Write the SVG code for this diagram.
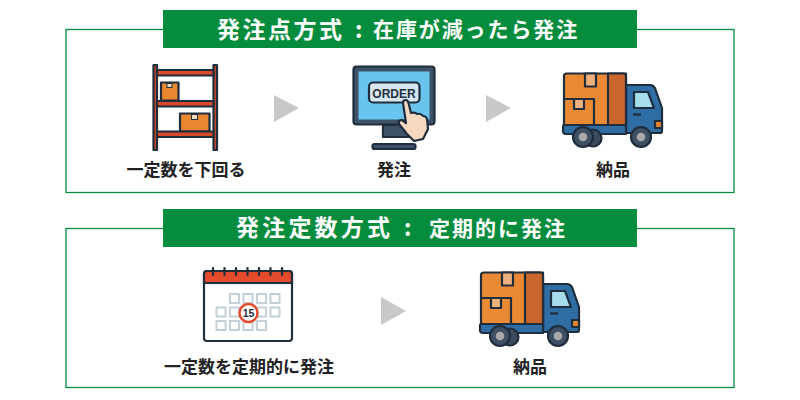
<svg xmlns="http://www.w3.org/2000/svg" xmlns:xlink="http://www.w3.org/1999/xlink" width="800" height="400" viewBox="0 0 800 400">
<style>
text{font-family:"Noto Sans CJK JP","Noto Sans",sans-serif;font-weight:700}
.frame{fill:#fff;stroke:#058c3d;stroke-width:1.3}
.band{fill:#058c3d}
.title{fill:#fff;font-size:23px}
.sub{fill:#fff;font-size:21px}
.label{fill:#222;font-size:17px;text-anchor:middle}
.arrow{fill:#c8c8c8}
.d{stroke:#1f2d3d;stroke-width:2.2;stroke-linejoin:round}
</style>
<defs>
<g id="truck">
<path class="d" d="M626 85H650Q653 85 655 88L662 108V131Q662 133 660 133H626Z" fill="#2f6ea5"/>
<path class="d" d="M634 92H648L654 108H634Z" fill="#a6dcec"/>
<path d="M633 114.500H641" stroke="#1f2d3d" stroke-width="2.200"/>
<rect class="d" x="655" y="121" width="7" height="7" fill="#e8862f"/>
<path class="d" d="M564 125H626V134H566Q563 134 563 131V127Q563 125 564 125Z" fill="#2f6ea5"/>
<path class="d" d="M567 73.500H626V125H564V76Q564 73.500 567 73.500Z" fill="#ea8a35"/>
<path class="d" d="M608 73.500H623Q626 73.500 626 76V125H608Z" fill="#c8662b"/>
<path class="d" d="M564 99H594V125" fill="none"/>
<rect class="d" x="585" y="73.500" width="11" height="13" fill="#eeb07c"/>
<rect class="d" x="574" y="99" width="10" height="10" fill="#eeb07c"/>
<circle class="d" cx="593" cy="138" r="8.500" fill="#3b4a5c"/>
<circle class="d" cx="583" cy="137" r="10" fill="#3f5064"/>
<circle cx="583" cy="137" r="4.300" fill="#a9a9a9"/>
<circle class="d" cx="641" cy="137" r="10" fill="#3f5064"/>
<circle cx="641" cy="137" r="4.300" fill="#a9a9a9"/>
</g>
</defs>

<g id="panel-top">
<rect class="frame" x="66" y="29.500" width="668" height="163"/>
<rect class="band" x="163" y="10" width="474" height="38"/>
<text class="title" x="217" y="37.500" letter-spacing="2.500">発注点方式</text>
<text class="title" x="355" y="37.500">:</text>
<text class="sub" x="373" y="37" letter-spacing="1.900">在庫が減ったら発注</text>
</g>

<g id="panel-bottom">
<rect class="frame" x="66" y="228.500" width="668" height="159"/>
<rect class="band" x="163" y="209" width="474" height="38"/>
<text class="title" x="236" y="235.500" letter-spacing="3.200">発注定数方式</text>
<text class="title" x="404" y="235.500">:</text>
<text class="sub" x="429" y="235.500" letter-spacing="2">定期的に発注</text>
</g>

<g id="node-shelf">
<rect class="d" x="153.500" y="65" width="3.500" height="85" fill="#d8492a"/>
<rect class="d" x="213.500" y="65" width="3.500" height="85" fill="#d8492a"/>
<rect class="d" x="157" y="70" width="56.500" height="5.500" fill="#d8492a"/>
<rect class="d" x="161" y="82.500" width="17.500" height="18" fill="#e8872f"/>
<rect x="167" y="83.500" width="5" height="4" fill="#f0d9c0" stroke="#1f2d3d"/>
<rect class="d" x="157" y="101" width="56.500" height="5.500" fill="#d8492a"/>
<rect class="d" x="180" y="113.500" width="29.500" height="18" fill="#e8872f"/>
<rect x="191.500" y="114.500" width="6" height="5" fill="#f0d9c0" stroke="#1f2d3d"/>
<rect class="d" x="157" y="131.500" width="56.500" height="5.500" fill="#d8492a"/>
<text class="label" x="186" y="176">一定数を下回る</text>
</g>

<g id="node-order">
<rect class="d" x="353.500" y="66.500" width="81" height="58" rx="3" fill="#3f5368"/>
<rect x="358.500" y="71.500" width="71" height="48" fill="#69c4ee"/>
<path class="d" d="M383 125H411V137H383Z" fill="#3f5368"/>
<rect class="d" x="372.500" y="144" width="43" height="5" rx="2" fill="#3f5368"/>
<rect class="d" x="369" y="82.500" width="50.500" height="20" rx="4" fill="#d8e6f0"/>
<text x="394" y="97.500" text-anchor="middle" font-size="12" fill="#22303f" style="font-family:'Liberation Sans',sans-serif">ORDER</text>
<path class="d" d="M403 103Q403 100 405.500 100Q408 100 408.500 103L411 113Q415 112 417 114Q421 113 423 116Q426 116 427 119L428 129L423 139L414 141L407 134L399 124Q398 120 402 120L406 123Z" fill="#f5d8bf"/>
<text class="label" x="394" y="176">発注</text>
</g>

<g id="node-truck-1">
<use href="#truck" xlink:href="#truck"/>
<text class="label" x="613" y="176">納品</text>
</g>

<g id="node-calendar">
<rect class="d" x="204" y="271" width="88" height="70" rx="3" fill="#fff"/>
<path class="d" d="M207 271H289Q292 271 292 274V283H204V274Q204 271 207 271Z" fill="#e34b2c"/>
<g stroke="#1f2d3d" stroke-width="2.200" stroke-linecap="round">
<path d="M213 268V275M224.500 268V275M236 268V275M247.500 268V275M259 268V275M270.500 268V275M282 268V275"/>
</g>
<g fill="#fff" stroke="#c4d0d8" stroke-width="2">
<rect x="230" y="294" width="9" height="9"/><rect x="243.500" y="294" width="9" height="9"/><rect x="257" y="294" width="9" height="9"/><rect x="270.500" y="294" width="9" height="9"/>
<rect x="216.500" y="307.500" width="9" height="9"/><rect x="230" y="307.500" width="9" height="9"/><rect x="257" y="307.500" width="9" height="9"/><rect x="270.500" y="307.500" width="9" height="9"/>
<rect x="216.500" y="321" width="9" height="9"/><rect x="230" y="321" width="9" height="9"/><rect x="243.500" y="321" width="9" height="9"/><rect x="257" y="321" width="9" height="9"/>
</g>
<circle cx="248.500" cy="313" r="9" fill="#fff" stroke="#e34b2c" stroke-width="2.500"/>
<text x="248.500" y="317" text-anchor="middle" font-size="10.500" fill="#1f2d3d" style="font-family:'Liberation Sans',sans-serif">15</text>
<text class="label" x="249" y="373">一定数を定期的に発注</text>
</g>

<g id="node-truck-2">
<use href="#truck" xlink:href="#truck" x="-83" y="199"/>
<text class="label" x="530" y="373">納品</text>
</g>

<g id="connectors">
<path class="arrow" d="M274 95L299 108L274 122Z"/>
<path class="arrow" d="M486 95L511 108L486 122Z"/>
<path class="arrow" d="M381 297L406 311L381 325Z"/>
</g>
</svg>
